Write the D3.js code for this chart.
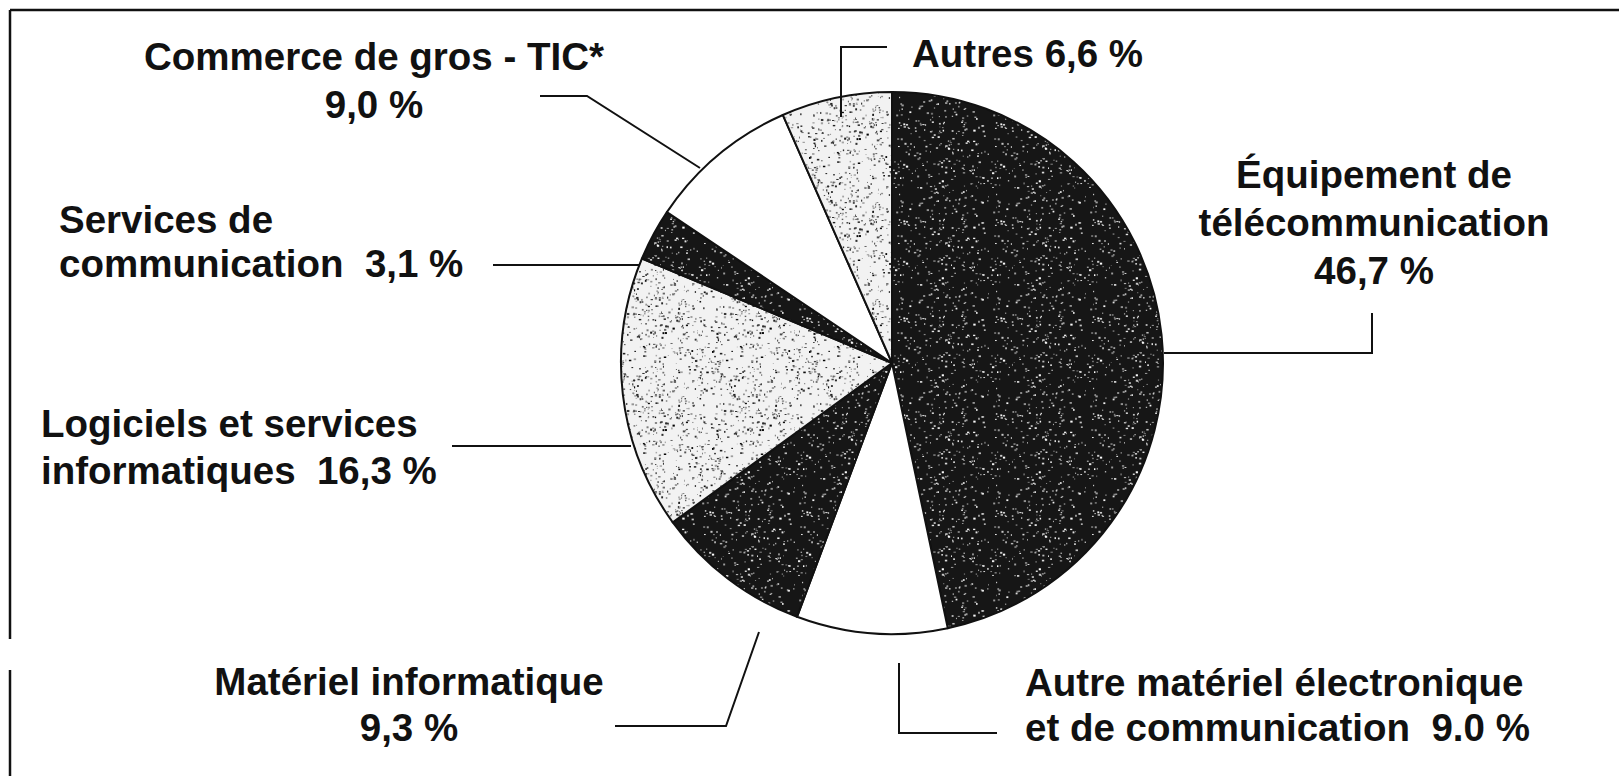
<!DOCTYPE html>
<html>
<head>
<meta charset="utf-8">
<script src="https://cdn.jsdelivr.net/npm/d3@7"></script>
<style>
  html, body { margin: 0; padding: 0; background: #fff; }
  svg { display: block; }
  text { font-family: "Liberation Sans", Arial, sans-serif; font-weight: bold; fill: #111; white-space: pre; }
</style>
</head>
<body>
<svg id="chart" width="1619" height="776"></svg>
<script>
// ---- data ----
const categories = [
  "Équipement de télécommunication",
  "Autre matériel électronique et de communication",
  "Matériel informatique",
  "Logiciels et services informatiques",
  "Services de communication",
  "Commerce de gros - TIC*",
  "Autres"
];
const values = [46.7, 9.0, 9.3, 16.3, 3.1, 9.0, 6.6];
const valueLabels = ["46,7 %", "9.0 %", "9,3 %", "16,3 %", "3,1 %", "9,0 %", "6,6 %"];
const fills = ["dark", "white", "dark", "light", "dark", "white", "light"];
const labelLines = [
  ["Équipement de", "télécommunication", "46,7 %"],
  ["Autre matériel électronique", "et de communication  9.0 %"],
  ["Matériel informatique", "9,3 %"],
  ["Logiciels et services", "informatiques  16,3 %"],
  ["Services de", "communication  3,1 %"],
  ["Commerce de gros - TIC*", "9,0 %"],
  ["Autres 6,6 %"]
];

// ---- layout ----
const W = 1619, H = 776;
const cx = 892, cy = 363, R = 271;
const labelLayout = [
  {x: 1374, y: 188, anchor: "middle", dy: 48, leader: [[1164,353],[1372,353],[1372,313]]},
  {x: 1025, y: 696, anchor: "start",  dy: 45, leader: [[899,663],[899,733],[997,733]]},
  {x: 409,  y: 695, anchor: "middle", dy: 46, leader: [[759,632],[726,726],[615,726]]},
  {x: 41,   y: 437, anchor: "start",  dy: 47, leader: [[631,446],[452,446]]},
  {x: 59,   y: 233, anchor: "start",  dy: 44, leader: [[640,265],[493,265]]},
  {x: 374,  y: 70,  anchor: "middle", dy: 48, leader: [[700,168],[587,96],[540,96]]},
  {x: 912,  y: 67,  anchor: "start",  dy: 0,  leader: [[841,117],[841,47],[887,47]]}
];

const svg = d3.select("#chart");
const defs = svg.append("defs");

// deterministic speckle textures (texture only, not data)
function mulberry32(a) {
  return function () {
    a |= 0; a = a + 0x6D2B79F5 | 0;
    let t = Math.imul(a ^ a >>> 15, 1 | a);
    t = t + Math.imul(t ^ t >>> 7, 61 | t) ^ t;
    return ((t ^ t >>> 14) >>> 0) / 4294967296;
  };
}
(function () {
  const S = 97;
  const p = defs.append("pattern").attr("id", "dark").attr("patternUnits", "userSpaceOnUse")
    .attr("width", S).attr("height", S);
  p.append("rect").attr("width", S).attr("height", S).attr("fill", "#161616");
  const r = mulberry32(7);
  for (let i = 0; i < 260; i++) {
    const g = 110 + Math.floor(r() * 145);
    p.append("rect").attr("x", r() * S).attr("y", r() * S)
      .attr("width", 0.8 + r() * 1.6).attr("height", 0.8 + r() * 1.2)
      .attr("fill", `rgb(${g},${g},${g})`);
  }
  const q = defs.append("pattern").attr("id", "light").attr("patternUnits", "userSpaceOnUse")
    .attr("width", S).attr("height", S);
  q.append("rect").attr("width", S).attr("height", S).attr("fill", "#f2f2f2");
  const r2 = mulberry32(42);
  for (let i = 0; i < 420; i++) {
    const g = Math.floor(r2() * 170);
    q.append("rect").attr("x", r2() * S).attr("y", r2() * S)
      .attr("width", 0.7 + r2() * 1.8).attr("height", 0.7 + r2() * 1.4)
      .attr("fill", `rgb(${g},${g},${g})`);
  }
})();

const fillFor = f => f === "dark" ? "url(#dark)" : f === "light" ? "url(#light)" : "#ffffff";

// frame
svg.append("line").attr("x1", 10).attr("x2", W).attr("y1", 10).attr("y2", 10)
  .attr("stroke", "#111").attr("stroke-width", 2.5);
svg.append("line").attr("x1", 10).attr("x2", 10).attr("y1", 10).attr("y2", 639)
  .attr("stroke", "#111").attr("stroke-width", 2.5);
svg.append("line").attr("x1", 10).attr("x2", 10).attr("y1", 670).attr("y2", H)
  .attr("stroke", "#111").attr("stroke-width", 2.5);

// pie
const pie = d3.pie().sort(null).value(d => d)(values);
const arc = d3.arc().innerRadius(0).outerRadius(R);
const g = svg.append("g").attr("transform", `translate(${cx},${cy})`);
g.selectAll("path.slice").data(pie).join("path")
  .attr("class", "slice")
  .attr("d", arc)
  .attr("fill", (d, i) => fillFor(fills[i]))
  .attr("stroke", "#111").attr("stroke-width", 2).attr("stroke-linejoin", "round");

// leaders
const line = d3.line();
svg.selectAll("path.leader").data(labelLayout).join("path")
  .attr("class", "leader")
  .attr("d", d => line(d.leader))
  .attr("fill", "none").attr("stroke", "#111").attr("stroke-width", 2);

// labels
labelLines.forEach((lines, i) => {
  const L = labelLayout[i];
  const t = svg.append("text").attr("text-anchor", L.anchor).style("font-size", "38.5px");
  lines.forEach((s, j) => {
    t.append("tspan").attr("x", L.x).attr("y", L.y + j * L.dy).text(s);
  });
});
</script>
</body>
</html>
